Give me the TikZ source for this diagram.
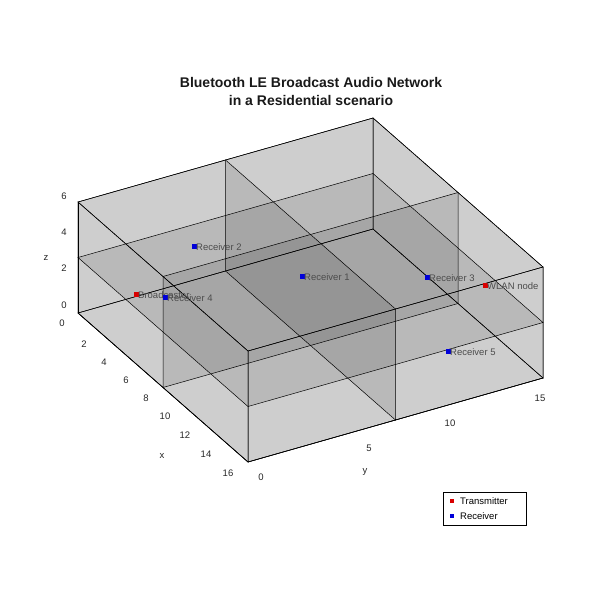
\documentclass[tikz,border=0pt]{standalone}
\usepackage{fontspec}
\setmainfont{Liberation Sans}
\begin{document}
\begin{tikzpicture}[x=1pt,y=-1pt,
  wall/.style={fill=black,fill opacity=0.1,draw=black,line width=0.5pt},
  lab/.style={font=\fontsize{9.5}{10}\selectfont,text=black!70,inner sep=0pt,anchor=west},
  tick/.style={font=\fontsize{9.5}{10}\selectfont,text=black!85,inner sep=0pt},
  tx/.style={fill=red!85!black,minimum size=5pt,inner sep=0pt},
  rx/.style={fill=blue!85!black,minimum size=5pt,inner sep=0pt}]
\useasboundingbox (0,0) rectangle (600,600);
\begin{scope}[shift={(78,313)},x={(10.625pt,-9.3125pt)},y={(18.4375pt,5.25pt)},z={(0pt,18.5pt)}]
 \foreach \a in {0,8,16}{
   \draw[wall] (\a,0,0)--(\a,16,0)--(\a,16,6)--(\a,0,6)--cycle;
   \draw[wall] (0,\a,0)--(16,\a,0)--(16,\a,6)--(0,\a,6)--cycle;}
 \foreach \h in {0,3,6}
   \draw[wall] (0,0,\h)--(16,0,\h)--(16,16,\h)--(0,16,\h)--cycle;
 \draw[line width=0.6pt] (0,0,0)--(16,0,0)--(16,16,0);
 \draw[line width=0.6pt] (0,0,0)--(0,0,6);
\end{scope}
% markers
\node[tx] (bc) at (136,294) {}; \node[lab] at (138,295) {Broadcaster};
\node[tx] (wl) at (485,285) {}; \node[lab] at (487,286) {WLAN node};
\node[rx] (r1) at (302,276) {}; \node[lab] at (304,277) {Receiver 1};
\node[rx] (r2) at (194,246) {}; \node[lab] at (196,247) {Receiver 2};
\node[rx] (r3) at (427,277) {}; \node[lab] at (429,278) {Receiver 3};
\node[rx] (r4) at (165,297) {}; \node[lab] at (167,298) {Receiver 4};
\node[rx] (r5) at (448,351) {}; \node[lab] at (450,352) {Receiver 5};
% ticks
\foreach \v/\yy in {6/196,4/232,2/268,0/305} \node[tick] at (64,\yy) {\v};
\node[tick] at (46,258) {z};
\foreach \v/\xx/\yy in {0/62/323,2/84/344,4/104/362,6/126/380,8/146/398,10/165/416,12/185/435,14/206/454,16/228/473}
  \node[tick] at (\xx,\yy) {\v};
\node[tick] at (162,456) {x};
\foreach \v/\xx/\yy in {0/261/477,5/369/448,10/450/423,15/540/398}
  \node[tick] at (\xx,\yy) {\v};
\node[tick] at (365,472) {y};
% title
\node[font=\bfseries\fontsize{14}{18}\selectfont,align=center,text=black!90] (title) at (311,91) {Bluetooth LE Broadcast Audio Network\\in a Residential scenario};
% legend
\draw[fill=white,line width=0.5pt] (443,492) rectangle (526,525);
\node[tx,minimum size=4.5pt] (lt) at (452,501) {}; \node[lab,text=black] at (460,501) {Transmitter};
\node[rx,minimum size=4.5pt] (lr) at (452,516) {}; \node[lab,text=black] at (460,516) {Receiver};
\end{tikzpicture}
\end{document}
